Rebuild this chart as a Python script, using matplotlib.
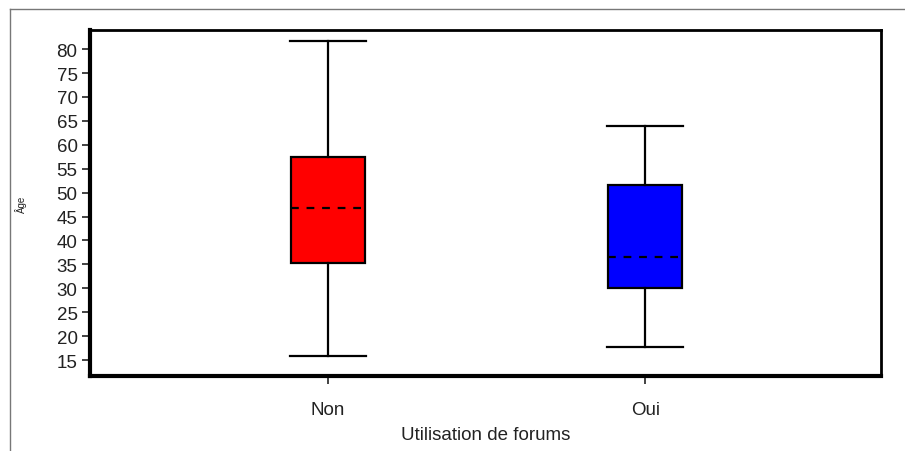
import matplotlib
matplotlib.use("Agg")
import matplotlib.pyplot as plt
from matplotlib.lines import Line2D

categories = ["Non", "Oui"]
whislo = [15.8, 17.7]
q1 = [35.3, 30.0]
med = [46.8, 36.5]
q3 = [57.4, 51.6]
whishi = [81.7, 63.9]
colors = ["#ff0000", "#0000ff"]
yticks = list(range(15, 81, 5))

plt.rcParams['font.family'] = ['Liberation Sans', 'DejaVu Sans']

fig = plt.figure(figsize=(9.05, 4.52), dpi=100)
ax = fig.add_axes([90/905, 1-377/452, (881-90)/905, (377-31)/452])

stats = []
for i, c in enumerate(categories):
    stats.append(dict(label=c, whislo=whislo[i], q1=q1[i], med=med[i], q3=q3[i], whishi=whishi[i], fliers=[]))

bp = ax.bxp(stats, positions=[1, 2], widths=0.235, patch_artist=True, showfliers=False,
            boxprops=dict(linewidth=1.6, edgecolor='black'),
            whiskerprops=dict(linewidth=1.6, color='black'),
            capprops=dict(linewidth=1.6, color='black'),
            medianprops=dict(linewidth=1.6, color='black', linestyle=(0, (3.5, 3.5))),
            capwidths=0.24)
for patch, col in zip(bp['boxes'], colors):
    patch.set_facecolor(col)

ax.set_xlim(0.249, 2.744)
ax.set_ylim(11.66, 84.0)
ax.set_yticks(yticks)
ax.set_yticklabels([str(v) for v in yticks])
ax.set_xticks([1, 2])
ax.set_xticklabels(categories)
ax.tick_params(axis='both', labelsize=13.5, length=6, width=1.2, color='#222222', labelcolor='#222222')
ax.tick_params(axis='y', pad=3)
ax.tick_params(axis='x', pad=12)
ax.spines['left'].set_linewidth(3)
ax.spines['bottom'].set_linewidth(3)
ax.spines['top'].set_linewidth(2)
ax.spines['right'].set_linewidth(2)
ax.set_xlabel("Utilisation de forums", fontsize=13.5, color='#222222', labelpad=6)
ax.set_ylabel("Âge", fontsize=7, color='#222222')
ax.yaxis.set_label_coords(-0.08, 0.5)

fig.add_artist(Line2D([10/905, 1.0], [1-10/452, 1-10/452], transform=fig.transFigure, color='#777777', linewidth=1))
fig.add_artist(Line2D([10/905, 10/905], [0, 1-10/452], transform=fig.transFigure, color='#777777', linewidth=1))

fig.savefig("out.png", dpi=100)
